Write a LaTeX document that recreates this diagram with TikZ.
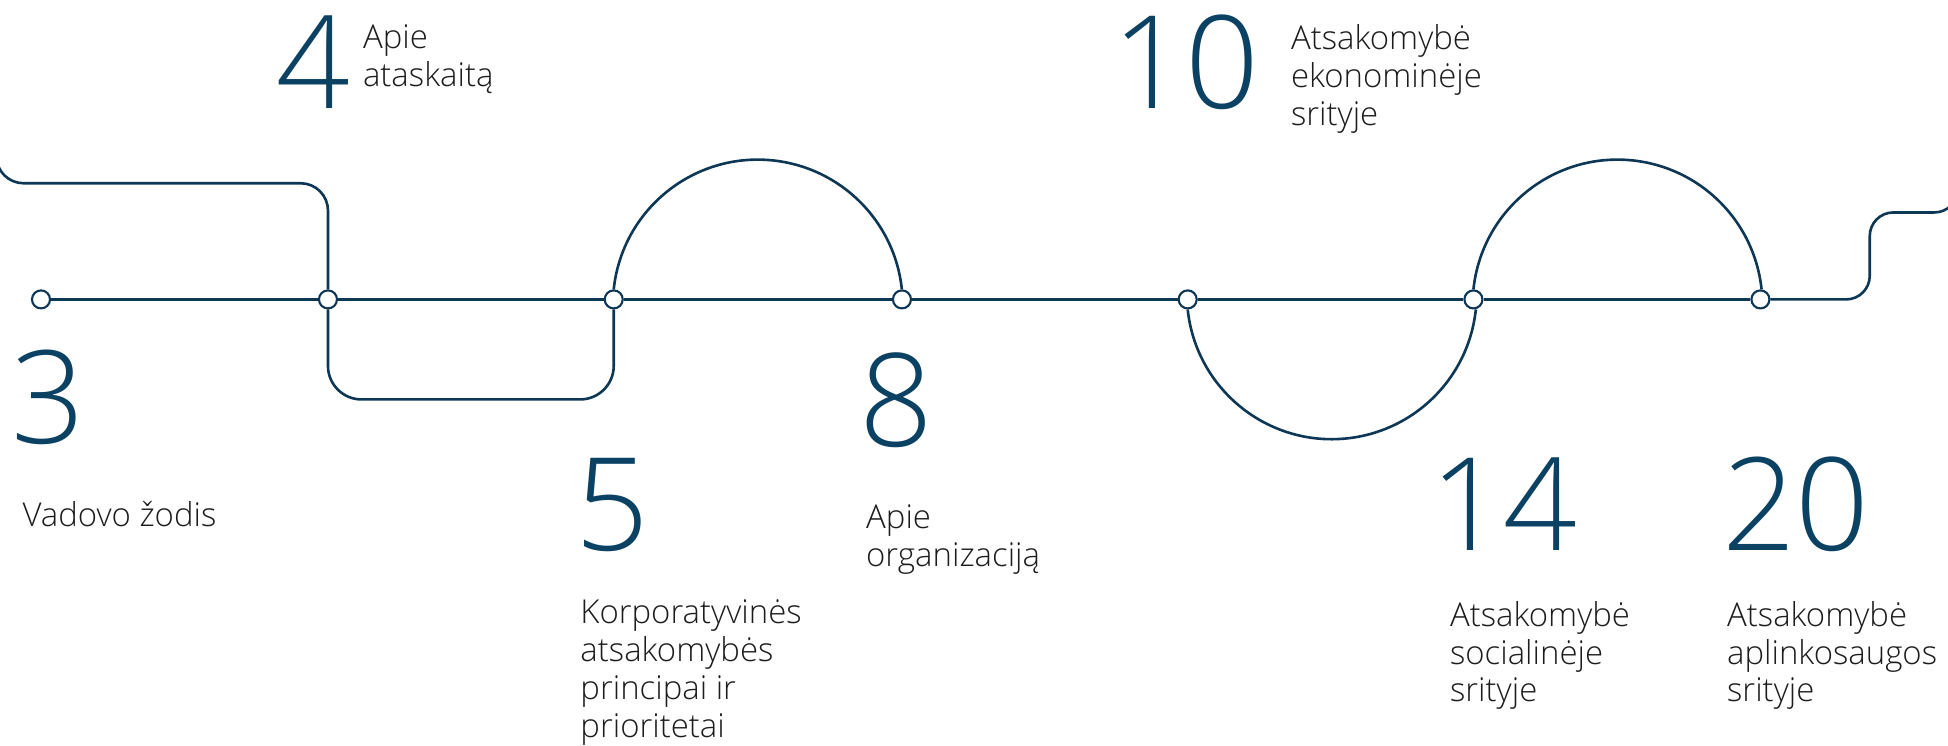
\documentclass[tikz,border=0pt]{standalone}
\usepackage{fontspec}
\setmainfont{Open Sans}[UprightFont=* Light]
\usepackage{tikz}
\definecolor{linec}{HTML}{0E3756}
\definecolor{numc}{HTML}{0B4263}
\definecolor{textc}{HTML}{1C1C1C}
\tikzset{
	stop/.style={circle, draw=linec, fill=white, line width=1.7pt, minimum size=14.5pt, inner sep=0pt},
	route/.style={draw=linec, line width=2.1pt},
	num/.style={anchor=base west, inner sep=0pt, text=numc, font=\fontsize{104}{104}\selectfont},
	title/.style={anchor=base west, inner sep=0pt, align=left, text=textc, font=\fontsize{26.5}{30.5}\selectfont},
}
\begin{document}
\begin{tikzpicture}[x=1pt,y=1pt]
		\useasboundingbox (0,0) rectangle (1568,-600);
		% 点の定義
		\coordinate (in_left) at (-3,-100);
		\coordinate (top_left) at (100,-147.5);
		\coordinate (low_left) at (380,-321.5);
		\coordinate (step_right) at (1505,-171);
		\coordinate (out_right) at (1576,-100);
		% 駅の描画
		\node[stop] (n3) at (33,-241) {};
		\node[stop] (n4) at (264,-241) {};
		\node[stop] (n5) at (494,-241) {};
		\node[stop] (n8) at (726,-241) {};
		\node[stop] (n10) at (956,-241) {};
		\node[stop] (n14) at (1186,-241) {};
		\node[stop] (n20) at (1417,-241) {};
		% 線の描画
		\draw[route] (n3)--(n4)--(n5)--(n8)--(n10)--(n14)--(n20);
		\draw[route, rounded corners=22pt] (in_left) |- (top_left) -| (n4.north);
		\draw[route, rounded corners=27pt] (n4.south) |- (low_left) -| (n5.south);
		\draw[route] (n5.north) arc[start angle=174, end angle=6, radius=116.6];
		\draw[route] (n10.south) arc[start angle=186, end angle=354, radius=116.6];
		\draw[route] (n14.north) arc[start angle=174, end angle=6, radius=116.6];
		\draw[route, rounded corners=19pt] (n20.east) -| (step_right) -| (out_right);
		% 番号の描画
		\node[num] (p3) at (9,-357) {3};
		\node[num] (p4) at (222,-87) {4};
		\node[num] (p5) at (463,-443) {5};
		\node[num] (p8) at (692,-359) {8};
		\node[num] (p10) at (895,-87) {10};
		\node[num] (p14) at (1151,-443) {14};
		\node[num] (p20) at (1386,-443) {20};
		% 見出しの描画
		\node[title] (t3) at (18,-424) {Vadovo žodis};
		\node[title] (t4) at (292,-69.5) {Apie\\ataskaitą};
		\node[title] (t5) at (467,-593.5) {Korporatyvinės\\atsakomybės\\principai ir\\prioritetai};
		\node[title] (t8) at (697,-456) {Apie\\organizaciją};
		\node[title] (t10) at (1039,-101) {Atsakomybė\\ekonominėje\\srityje};
		\node[title] (t14) at (1167,-565) {Atsakomybė\\socialinėje\\srityje};
		\node[title] (t20) at (1390,-565) {Atsakomybė\\aplinkosaugos\\srityje};
	\end{tikzpicture}
\end{document}
